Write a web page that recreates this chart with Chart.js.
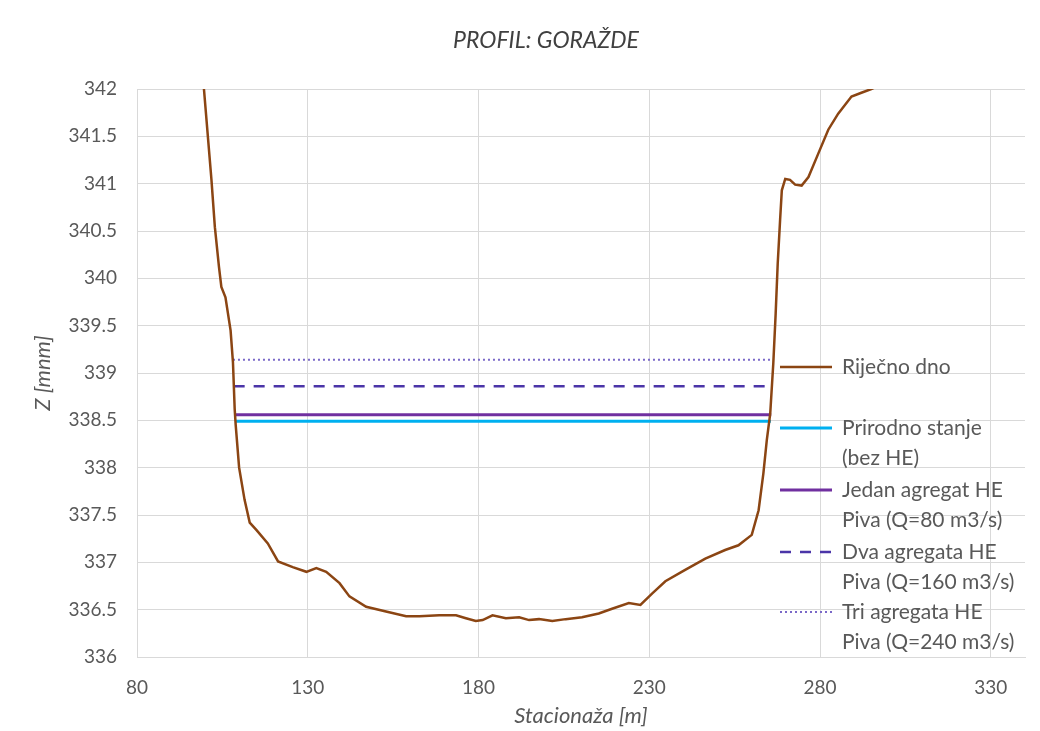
<!DOCTYPE html>
<html>
<head>
<meta charset="utf-8">
<script src="https://cdn.jsdelivr.net/npm/chart.js@4/dist/chart.umd.min.js"></script>
<style>
html,body{margin:0;padding:0;background:#fff}
#wrap{position:relative;width:1040px;height:731px}
</style>
</head>
<body>
<div id="wrap"><canvas id="c" width="1040" height="731"></canvas></div>
<script>
// ---- Data ----
const chartTitle = 'PROFIL: GORAŽDE';
const bedStations = [99.4, 99.6, 101.8, 102.8, 104.0, 104.7, 105.9, 107.4, 108.1, 108.6, 108.9, 109.9, 111.5, 113.0, 115.0, 118.3, 121.3, 125.6, 129.6, 132.5, 135.4, 139.3, 142.2, 147.1, 152.9, 158.8, 162.7, 168.5, 173.4, 176.3, 179.2, 181.2, 184.1, 188.0, 191.9, 194.8, 197.7, 201.6, 205.5, 210.3, 215.2, 219.1, 224.0, 227.4, 230.8, 234.7, 240.5, 246.4, 252.2, 256.1, 260.0, 262.0, 263.4, 264.4, 265.4, 266.3, 267.0, 267.6, 268.3, 268.8, 269.8, 271.2, 272.7, 274.6, 276.6, 279.5, 282.4, 285.3, 289.2, 292.1, 295.0, 297.5];
const bedElevations = [342.1, 342.0, 341.04, 340.54, 340.12, 339.91, 339.80, 339.45, 339.11, 338.62, 338.45, 338.0, 337.66, 337.42, 337.34, 337.20, 337.01, 336.95, 336.90, 336.94, 336.90, 336.78, 336.64, 336.53, 336.48, 336.43, 336.43, 336.44, 336.44, 336.41, 336.38, 336.39, 336.44, 336.41, 336.42, 336.39, 336.40, 336.38, 336.40, 336.42, 336.46, 336.51, 336.57, 336.55, 336.67, 336.80, 336.92, 337.04, 337.13, 337.18, 337.29, 337.55, 337.94, 338.29, 338.57, 339.10, 339.63, 340.16, 340.62, 340.93, 341.05, 341.04, 340.99, 340.98, 341.07, 341.32, 341.57, 341.74, 341.92, 341.96, 342.0, 342.04];

const waterNames = ["Prirodno stanje (bez HE)", "Jedan agregat HE Piva (Q=80 m3/s)", "Dva agregata HE Piva (Q=160 m3/s)", "Tri agregata HE Piva (Q=240 m3/s)"];
const waterLevels = [338.49, 338.56, 338.86, 339.14];
const waterStart = [108.7, 108.6, 108.3, 108.1];
const waterEnd = [265.6, 265.7, 266.0, 266.2];

const legendLines = [["Riječno dno"], ["Prirodno stanje", "(bez HE)"], ["Jedan agregat HE", "Piva (Q=80 m3/s)"], ["Dva agregata HE", "Piva (Q=160 m3/s)"], ["Tri agregata HE", "Piva (Q=240 m3/s)"]];

const xTicks = [80, 130, 180, 230, 280, 330];
const yTicks = [336, 336.5, 337, 337.5, 338, 338.5, 339, 339.5, 340, 340.5, 341, 341.5, 342];

// ---- Styles ----
const FONT = "Lato, 'Open Sans', sans-serif";
const TEXT = '#595959';
const GRID = '#D9D9D9';
const waterStyles = [
  {color: '#00B0F0', width: 3, dash: []},
  {color: '#7030A0', width: 3, dash: []},
  {color: '#4B35A8', width: 2.5, dash: [11, 9]},
  {color: '#7A68C8', width: 2, dash: [2, 3]}
];
const bedStyle = {color: '#8B4513', width: 2.5, dash: []};

const datasets = [{
  label: 'Riječno dno',
  data: bedStations.map((x, i) => ({x: x, y: bedElevations[i]})),
  borderColor: bedStyle.color,
  borderWidth: bedStyle.width,
  showLine: true, pointRadius: 0, tension: 0, fill: false
}];
waterLevels.forEach((z, i) => {
  datasets.push({
    label: waterNames[i],
    data: [{x: waterStart[i], y: z}, {x: waterEnd[i], y: z}],
    borderColor: waterStyles[i].color,
    borderWidth: waterStyles[i].width,
    borderDash: waterStyles[i].dash,
    showLine: true, pointRadius: 0, fill: false
  });
});

const overlayPlugin = {
  id: 'overlay',
  afterDraw(chart) {
    const ctx = chart.ctx;
    ctx.save();
    // title
    ctx.font = "italic 23px " + FONT;
    ctx.fillStyle = '#404040';
    ctx.textAlign = 'center';
    ctx.textBaseline = 'middle';
    ctx.fillText(chartTitle, 546, 41);
    // legend
    const lineX0 = 780, lineX1 = 832, textX = 842;
    const rowsY = [367, 428, 490, 552, 612];
    const lh = 30;
    const styles = [bedStyle].concat(waterStyles);
    ctx.font = "21px " + FONT;
    ctx.fillStyle = TEXT;
    ctx.textAlign = 'left';
    legendLines.forEach((lines, i) => {
      const y = rowsY[i];
      const s = styles[i];
      ctx.beginPath();
      ctx.strokeStyle = s.color;
      ctx.lineWidth = s.width;
      ctx.setLineDash(s.dash);
      ctx.moveTo(lineX0, y);
      ctx.lineTo(lineX1, y);
      ctx.stroke();
      ctx.setLineDash([]);
      lines.forEach((t, k) => ctx.fillText(t, textX, y + k * lh));
    });
    ctx.restore();
  }
};

new Chart(document.getElementById('c'), {
  type: 'scatter',
  data: {datasets: datasets},
  plugins: [overlayPlugin],
  options: {
    responsive: false,
    animation: false,
    devicePixelRatio: 1,
    layout: {padding: {left: 0, right: 15, top: 89, bottom: 0}},
    plugins: {
      legend: {display: false},
      tooltip: {enabled: false},
      title: {display: false}
    },
    scales: {
      x: {
        type: 'linear',
        min: 80, max: 340,
        afterBuildTicks: s => { s.ticks = xTicks.map(v => ({value: v})); },
        afterFit: s => { s.height = 74; },
        grid: {color: GRID, drawTicks: false, lineWidth: 1},
        border: {color: GRID},
        ticks: {color: TEXT, font: {family: FONT, size: 19}, padding: 19, maxRotation: 0, callback: v => String(v)},
        title: {display: true, text: 'Stacionaža [m]', color: TEXT, font: {family: FONT, size: 22, style: 'italic'}, padding: {top: 0, bottom: 2}}
      },
      y: {
        type: 'linear',
        min: 336, max: 342,
        afterBuildTicks: s => { s.ticks = yTicks.map(v => ({value: v})); },
        afterFit: s => { s.width = 137; },
        grid: {color: GRID, drawTicks: false, lineWidth: 1},
        border: {display: false},
        ticks: {color: TEXT, font: {family: FONT, size: 19}, padding: 20, callback: v => String(v)},
        title: {display: true, text: 'Z [mnm]', color: TEXT, font: {family: FONT, size: 22, style: 'italic'}, padding: {top: 30, bottom: 0}}
      }
    }
  }
});
</script>
</body>
</html>
